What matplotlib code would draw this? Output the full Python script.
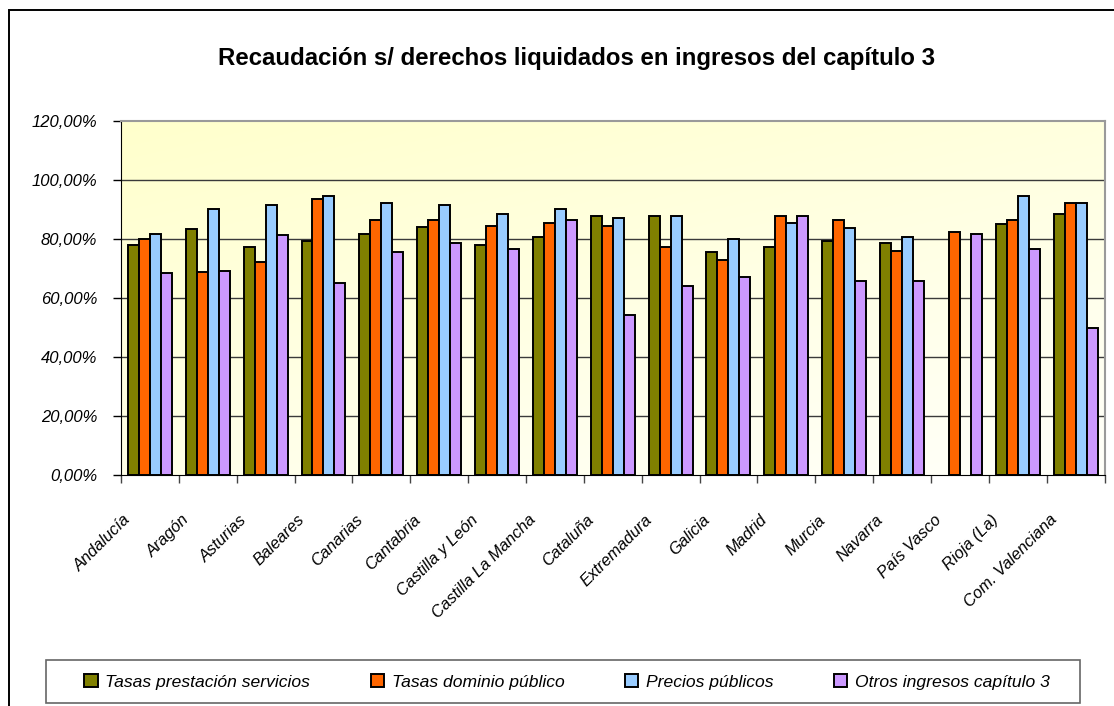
import numpy as np
import matplotlib
matplotlib.use("Agg")
import matplotlib.pyplot as plt
from matplotlib.patches import Patch, Rectangle
from matplotlib.transforms import ScaledTranslation

plt.rcParams['font.family'] = ['Liberation Sans', 'DejaVu Sans']

regions = ["Andalucía", "Aragón", "Asturias", "Baleares", "Canarias", "Cantabria",
           "Castilla y León", "Castilla La Mancha", "Cataluña", "Extremadura",
           "Galicia", "Madrid", "Murcia", "Navarra", "País Vasco", "Rioja (La)",
           "Com. Valenciana"]

# values in % (nan = no bar)
tasas_servicios = [78.0, 83.2, 77.4, 79.3, 81.8, 83.9, 78.0, 80.6, 87.6, 87.6,
                   75.4, 77.4, 79.3, 78.6, np.nan, 85.1, 88.4]
tasas_dominio = [80.0, 68.9, 72.2, 93.5, 86.5, 86.5, 84.4, 85.5, 84.4, 77.4,
                 72.9, 87.6, 86.5, 76.0, 82.4, 86.5, 92.1]
precios_publicos = [81.8, 90.2, 91.4, 94.7, 92.1, 91.4, 88.3, 90.2, 87.0, 87.6,
                    80.1, 85.5, 83.7, 80.6, np.nan, 94.7, 92.1]
otros_ingresos = [68.3, 69.0, 81.2, 65.2, 75.4, 78.6, 76.7, 86.3, 54.1, 63.9,
                  67.2, 87.6, 65.7, 65.7, 81.8, 76.7, 49.8]

series_names = ["Tasas prestación servicios", "Tasas dominio público",
                "Precios públicos", "Otros ingresos capítulo 3"]
series_colors = ["#808000", "#FF6600", "#99CCFF", "#CC99FF"]
y_ticks = [0, 20, 40, 60, 80, 100, 120]

W, H = 1114, 706
fig = plt.figure(figsize=(W / 100, H / 100), dpi=100)
ax = fig.add_axes([121 / W, 1 - 474.7 / H, (1104.5 - 121) / W, (474.7 - 121) / H])

n = len(regions)
ax.set_xlim(0, n)
ax.set_ylim(0, 120)

# pale yellow gradient behind the plot area (yellow top-left -> near white bottom-right)
gx, gy = np.meshgrid(np.linspace(0, 1, 200), np.linspace(0, 1, 200))
t = np.clip(0.6 * gy + 0.4 * gx, 0, 1)
c0 = np.array([255, 255, 204]) / 255
c1 = np.array([255, 255, 250]) / 255
grad = c0[None, None, :] * (1 - t[..., None]) + c1[None, None, :] * t[..., None]
ax.imshow(grad, extent=[0, n, 0, 120], aspect='auto', zorder=0)

for v in y_ticks[1:-1]:
    ax.axhline(v, color='#3a3a3a', lw=1.0, zorder=1)

x = np.arange(n) + 0.5
w = 0.19
all_series = [tasas_servicios, tasas_dominio, precios_publicos, otros_ingresos]
for k, (vals, col) in enumerate(zip(all_series, series_colors)):
    ax.bar(x + (k - 1.5) * w, vals, width=w, color=col, edgecolor='black',
           linewidth=1.4, zorder=3)

# y axis
ax.set_yticks(y_ticks)
ax.set_yticklabels([f"{v:.2f}%".replace('.', ',') for v in y_ticks],
                   fontsize=12, fontstyle='italic')
ax.tick_params(axis='y', direction='out', length=6, width=1, pad=11, color='black')

# x axis: ticks between categories, labels at centres
ax.set_xticks(np.arange(n + 1))
ax.set_xticklabels([])
ax.tick_params(axis='x', which='major', direction='out', length=6, width=1, color='#444444')
ax.set_xticks(x, minor=True)
ax.set_xticklabels(regions, minor=True, rotation=45, ha='right', fontsize=11.8,
                   fontstyle='italic')
ax.tick_params(axis='x', which='minor', length=0, pad=27)
shift = ScaledTranslation(-16 / 100, 0, fig.dpi_scale_trans)
for lab in ax.get_xticklabels(minor=True):
    lab.set_transform(lab.get_transform() + shift)

for side in ['top', 'right']:
    ax.spines[side].set_color('#9a9a9a')
    ax.spines[side].set_linewidth(1.5)
ax.spines['left'].set_color('black')
ax.spines['bottom'].set_color('black')

fig.text(577 / W, 1 - 58 / H, "Recaudación s/ derechos liquidados en ingresos del capítulo 3",
         ha='center', va='center', fontsize=17.3, fontweight='bold')

# legend with its own frame
handles = [Patch(facecolor=c, edgecolor='black', linewidth=1.4) for c in series_colors]
fig.legend(handles, series_names, loc='center', bbox_to_anchor=(567 / W, 1 - 682 / H),
           ncol=4, frameon=False, prop={'style': 'italic', 'size': 12.6},
           handlelength=0.75, handleheight=0.75, handletextpad=0.45,
           columnspacing=3.45, borderpad=0)
fig.patches.append(Rectangle((46 / W, 1 - 703 / H), (1080 - 46) / W, 43 / H,
                             transform=fig.transFigure, fill=False,
                             edgecolor='#666666', lw=1.2))
# outer chart border
fig.patches.append(Rectangle((8.5 / W, -0.05), 1.2, 1 - 9.5 / H + 0.05,
                             transform=fig.transFigure, fill=False,
                             edgecolor='black', lw=1.4))

fig.savefig("out.png", dpi=100)
